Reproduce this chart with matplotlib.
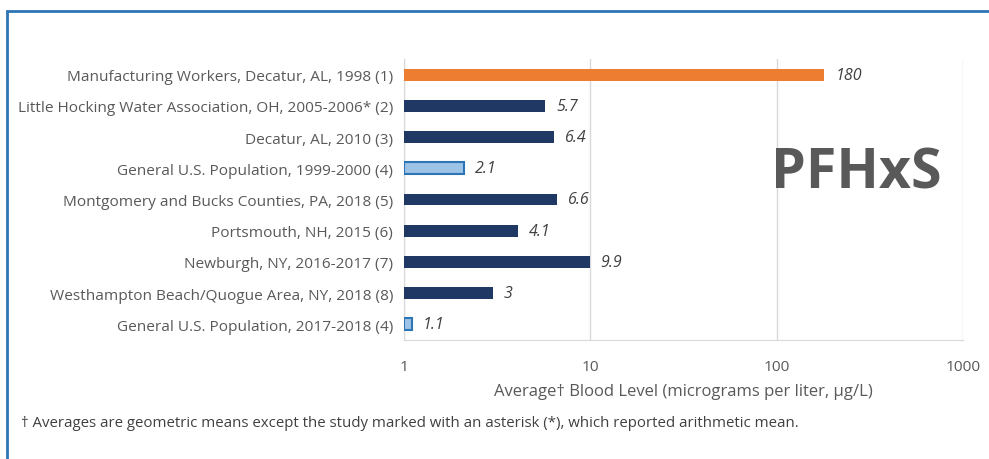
import matplotlib
matplotlib.use('Agg')
import matplotlib.pyplot as plt
from matplotlib.patches import Rectangle
from matplotlib.ticker import FixedLocator, FixedFormatter

labels = ['Manufacturing Workers, Decatur, AL, 1998 (1)',
          'Little Hocking Water Association, OH, 2005-2006* (2)',
          'Decatur, AL, 2010 (3)',
          'General U.S. Population, 1999-2000 (4)',
          'Montgomery and Bucks Counties, PA, 2018 (5)',
          'Portsmouth, NH, 2015 (6)',
          'Newburgh, NY, 2016-2017 (7)',
          'Westhampton Beach/Quogue Area, NY, 2018 (8)',
          'General U.S. Population, 2017-2018 (4)']
values = [180, 5.7, 6.4, 2.1, 6.6, 4.1, 9.9, 3, 1.1]
value_text = ['180', '5.7', '6.4', '2.1', '6.6', '4.1', '9.9', '3', '1.1']
kind = ['worker', 'community', 'community', 'national', 'community',
        'community', 'community', 'community', 'national']
xticks = [1, 10, 100, 1000]
xtick_labels = ['1', '10', '100', '1000']

FONT = ['Open Sans', 'DejaVu Sans']
GRAY = '#595959'


def main():
    plt.rcParams['font.family'] = FONT
    fig = plt.figure(figsize=(9.89, 4.60), dpi=100)
    ax = fig.add_axes([0.4085, 0.2587, 0.5652, 0.6109])

    face = {'worker': '#ED7D31', 'community': '#203864', 'national': '#9DC3E6'}
    edge = {'worker': '#ED7D31', 'community': '#203864', 'national': '#2E75B6'}
    lw = {'worker': 0, 'community': 0, 'national': 1.5}

    for i, v in enumerate(values):
        k = kind[i]
        ax.barh(i, v - 1, left=1, height=0.38, color=face[k],
                edgecolor=edge[k], linewidth=lw[k], zorder=3)
        ax.annotate(value_text[i], xy=(v, i), xytext=(8, 0),
                    textcoords='offset points', va='center', ha='left',
                    fontsize=11.5, style='italic', color='#404040')

    ax.set_xscale('log')
    ax.set_xlim(1, 1000)
    ax.set_ylim(8.5, -0.5)
    ax.xaxis.set_major_locator(FixedLocator(xticks))
    ax.xaxis.set_major_formatter(FixedFormatter(xtick_labels))
    ax.xaxis.set_minor_locator(FixedLocator([]))
    ax.set_yticks(range(len(labels)))
    ax.set_yticklabels(labels)
    ax.tick_params(axis='both', length=0, labelsize=11.05, labelcolor=GRAY)
    ax.tick_params(axis='x', pad=14)
    ax.tick_params(axis='y', pad=8)
    ax.grid(axis='x', color='#D9D9D9', linewidth=1, zorder=0)

    for s in ['top', 'right']:
        ax.spines[s].set_visible(False)
    ax.spines['bottom'].set_color('#D9D9D9')
    ax.spines['left'].set_color('#D9D9D9')

    ax.set_xlabel('Average\u2020 Blood Level (micrograms per liter, \u00b5g/L)',
                  fontsize=12, color=GRAY, labelpad=6)

    ax.text(0.8655, 0.622, 'PFHxS', transform=fig.transFigure, ha='center',
            va='center', fontsize=40, fontweight='bold', color=GRAY)

    fig.text(0.021, 0.08, '\u2020 Averages are geometric means except the study '
             'marked with an asterisk (*), which reported arithmetic mean.',
             fontsize=10.8, color='#404040', va='center')

    fig.patches.append(Rectangle((0.0075, -0.05), 1.1, 1.024,
                                 transform=fig.transFigure, fill=False,
                                 edgecolor='#2E75B6', linewidth=2))

    fig.savefig('out.png', dpi=100)


if __name__ == '__main__':
    main()
